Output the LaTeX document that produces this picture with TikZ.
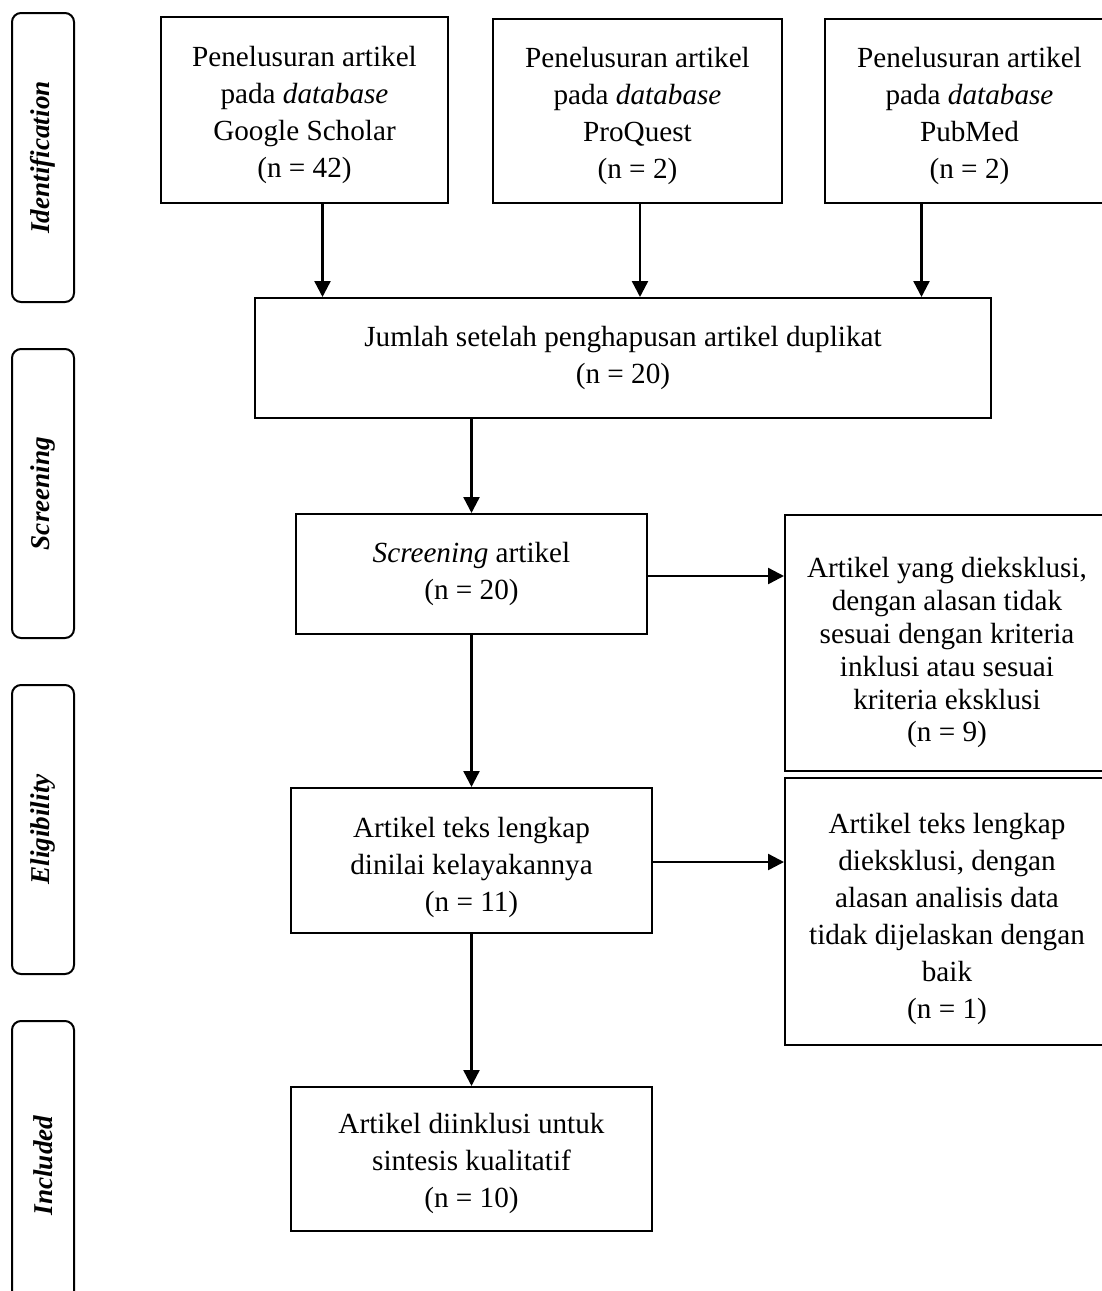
\documentclass[tikz,border=0pt]{standalone}
\usepackage{fontspec}
\setmainfont{Liberation Serif}
\usetikzlibrary{positioning,arrows.meta}
\newcommand{\liftline}[1]{\rule{0pt}{#1}}
\tikzset{
    block/.style = {
        draw,
        shape=rectangle,
        align=center,
        inner sep=2pt,
        line width=1pt,
        font=\fontsize{14.6}{18.5}\selectfont
    },
    phase/.style = {
        draw,
        shape=rectangle,
        rounded corners=4.5pt,
        minimum width=144.5pt,
        minimum height=31pt,
        rotate=90,
        line width=1pt,
        font=\fontsize{13.6}{16}\selectfont\bfseries\itshape
    },
    flow/.style = {
        draw,
        line width=1.2pt,
        ->
    },
    >={Triangle[length=8pt,width=8pt]},
}

\begin{document}
\begin{tikzpicture}[x=0.5pt,y=-0.5pt]
                \useasboundingbox (0,0) rectangle (1102,1291);

                % phase labels
                \node[phase] (ident) at (43,157.5) {Identification};
                \node[phase] (scrn) at (43,493.5) {Screening};
                \node[phase] (elig) at (43,829.5) {Eligibility};
                \node[phase] (incd) at (43,1165.5) {Included};

                % database searches
                \node[block, minimum width=143.5pt, minimum height=93pt] (gs) at (304.5,110)
                {\liftline{15pt}Penelusuran artikel\\pada \textit{database}\\Google Scholar\\(n = 42)};
                \node[block, minimum width=144.5pt, minimum height=92pt] (pq) at (637.5,111)
                {\liftline{15pt}Penelusuran artikel\\pada \textit{database}\\ProQuest\\(n = 2)};
                \node[block, minimum width=144.5pt, minimum height=92pt] (pm) at (969.5,111)
                {\liftline{15pt}Penelusuran artikel\\pada \textit{database}\\PubMed\\(n = 2)};

                \node[block, minimum width=368pt, minimum height=60pt] (dup) at (623,358)
                {Jumlah setelah penghapusan artikel duplikat\\(n = 20)};
                \node[block, minimum width=175.5pt, minimum height=60pt] (scr) at (471.5,574)
                {\textit{Screening} artikel\\(n = 20)};
                \node[block, minimum width=162pt, minimum height=128pt,
                font=\fontsize{14.6}{16.4}\selectfont] (exa) at (947,643)
                {\liftline{20pt}Artikel yang dieksklusi,\\dengan alasan tidak\\sesuai dengan kriteria\\inklusi atau sesuai\\kriteria eksklusi\\(n = 9)};
                \node[block, minimum width=180.5pt, minimum height=72.5pt] (full) at (471.5,860.5)
                {\liftline{17pt}Artikel teks lengkap\\dinilai kelayakannya\\(n = 11)};
                \node[block, minimum width=162pt, minimum height=133.5pt] (exb) at (947,911.5)
                {\liftline{18pt}Artikel teks lengkap\\dieksklusi, dengan\\alasan analisis data\\tidak dijelaskan dengan\\baik\\(n = 1)};
                \node[block, minimum width=180.5pt, minimum height=72pt] (incl) at (471.5,1159)
                {\liftline{15pt}Artikel diinklusi untuk\\sintesis kualitatif\\(n = 10)};

                \path[flow] ([xshift=9pt]gs.south) -- ([xshift=9pt]gs.south |- dup.north);
                \path[flow] ([xshift=1.25pt]pq.south) -- ([xshift=1.25pt]pq.south |- dup.north);
                \path[flow] ([xshift=-24pt]pm.south) -- ([xshift=-24pt]pm.south |- dup.north);
                \path[flow] (scr.north |- dup.south) -- (scr.north);
                \path[flow] ([yshift=-1pt]scr.east) -- ([yshift=-1pt]scr.east -| exa.west);
                \path[flow] (scr.south) -- (full.north);
                \path[flow] ([yshift=-0.75pt]full.east) -- ([yshift=-0.75pt]full.east -| exb.west);
                \path[flow] (full.south) -- (incl.north);
            \end{tikzpicture}
\end{document}
